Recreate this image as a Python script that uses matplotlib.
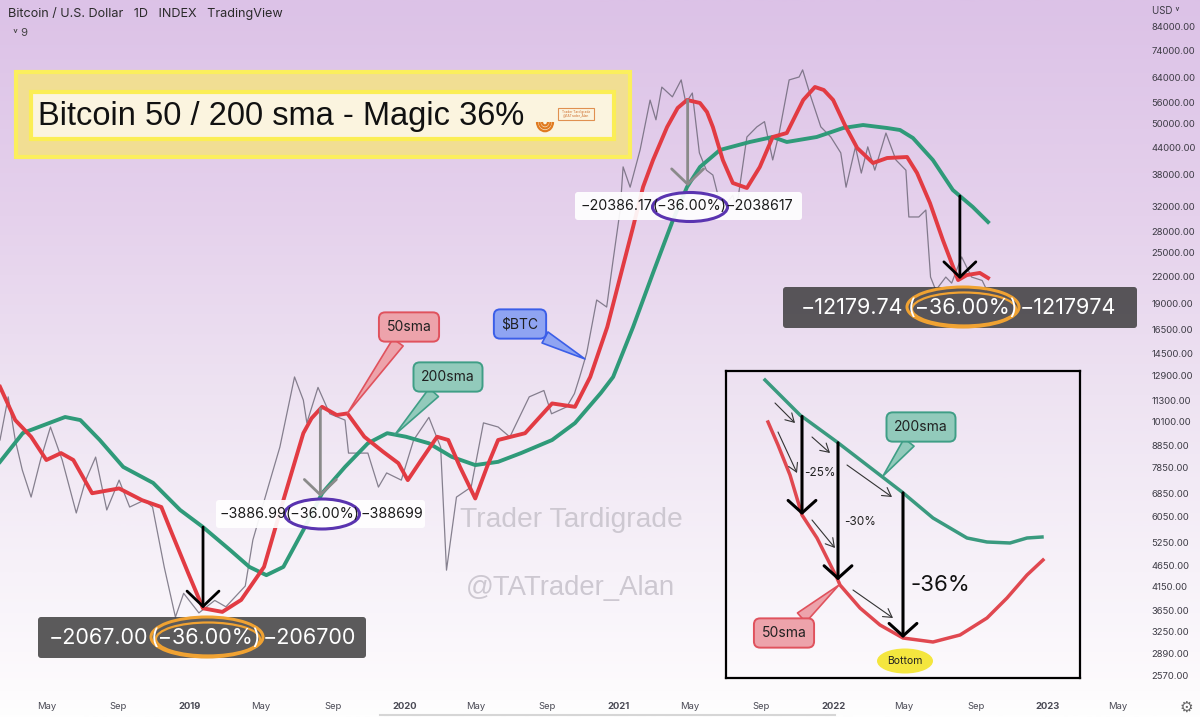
import matplotlib
matplotlib.use('Agg')
import matplotlib.pyplot as plt
import matplotlib.dates as mdates
from matplotlib.colors import LinearSegmentedColormap
from matplotlib.patches import FancyBboxPatch, Ellipse, Rectangle, Arc
from matplotlib.ticker import NullLocator
import numpy as np
import pandas as pd

plt.rcParams['font.family'] = ['Inter', 'DejaVu Sans']

# daily BTC price at its turning points
price_dates = ['2018-02-11', '2018-02-25', '2018-03-09', '2018-03-21', '2018-04-05', '2018-04-21',
               '2018-05-08', '2018-05-28', '2018-06-21', '2018-07-07', '2018-07-24', '2018-08-12',
               '2018-09-02', '2018-09-20', '2018-10-15', '2018-10-29', '2018-11-18', '2018-12-07',
               '2018-12-21', '2019-01-16', '2019-02-12', '2019-03-03', '2019-04-05', '2019-04-18',
               '2019-05-14', '2019-06-03', '2019-06-28', '2019-07-13', '2019-07-19', '2019-08-07',
               '2019-08-27', '2019-09-22', '2019-09-28', '2019-10-31', '2019-11-18', '2019-12-02',
               '2019-12-27', '2020-01-17', '2020-02-12', '2020-03-03', '2020-03-13', '2020-03-30',
               '2020-04-24', '2020-05-15', '2020-06-09', '2020-06-29', '2020-08-01', '2020-08-26',
               '2020-09-08', '2020-10-04', '2020-10-17', '2020-10-26', '2020-11-07', '2020-11-24',
               '2020-12-11', '2020-12-22', '2021-01-03', '2021-01-08', '2021-01-20', '2021-02-06',
               '2021-02-23', '2021-03-05', '2021-03-15', '2021-04-02', '2021-04-17', '2021-04-25',
               '2021-05-06', '2021-05-18', '2021-05-30', '2021-06-10', '2021-06-25', '2021-07-14',
               '2021-07-20', '2021-08-07', '2021-08-24', '2021-09-06', '2021-09-20', '2021-10-01',
               '2021-10-18', '2021-11-04', '2021-11-10', '2021-11-24', '2021-12-11', '2021-12-28',
               '2022-01-14', '2022-01-23', '2022-02-08', '2022-02-18', '2022-03-01', '2022-03-13',
               '2022-04-01', '2022-04-18', '2022-05-05', '2022-05-10', '2022-05-27', '2022-06-08',
               '2022-06-16', '2022-06-25', '2022-07-12', '2022-07-22', '2022-08-08', '2022-08-25',
               '2022-09-12', '2022-09-20']
price_close = [9120, 11500, 9120, 7760, 6710, 8190,
               9780, 8190, 6160, 7350, 8320, 6260,
               7350, 6360, 6600, 6360, 4600, 3520,
               4000, 3600, 3850, 3720, 4160, 5330,
               7080, 8780, 12800, 11300, 10000, 12100,
               10500, 10150, 8500, 8500, 7080, 7640,
               7350, 9120, 10300, 8780, 4530, 6710,
               7080, 10000, 9780, 9270, 11500, 11900,
               10500, 10900, 11700, 12800, 14560, 19360,
               18640, 24000, 31400, 39600, 35500, 43400,
               56700, 51000, 60800, 57700, 63200, 55800,
               58900, 42700, 38900, 37900, 31400, 34000,
               31400, 46500, 49100, 50500, 41100, 47500,
               63200, 64200, 66700, 57700, 49100, 46500,
               42700, 35500, 44100, 38300, 44100, 38900,
               47500, 41100, 38900, 30250, 30250, 31400,
               21900, 20400, 21900, 21200, 24400, 21900,
               21500, 20400]

sma50_dates = ['2018-02-11', '2018-03-09', '2018-04-05', '2018-05-01', '2018-05-26', '2018-06-16',
               '2018-07-18', '2018-09-02', '2018-10-11', '2018-11-13', '2018-12-01', '2018-12-29',
               '2019-01-23', '2019-02-25', '2019-03-29', '2019-05-07', '2019-06-09', '2019-07-13',
               '2019-07-27', '2019-08-14', '2019-09-08', '2019-09-26', '2019-10-25', '2019-11-26',
               '2019-12-22', '2020-01-07', '2020-01-30', '2020-02-26', '2020-03-16', '2020-04-05',
               '2020-05-01', '2020-05-21', '2020-06-09', '2020-07-25', '2020-09-09', '2020-10-18',
               '2020-11-13', '2020-12-12', '2021-01-03', '2021-01-25', '2021-02-11', '2021-02-28',
               '2021-03-24', '2021-04-11', '2021-04-27', '2021-05-19', '2021-05-31', '2021-06-10',
               '2021-06-27', '2021-07-14', '2021-08-07', '2021-08-29', '2021-09-20', '2021-10-14',
               '2021-11-11', '2021-12-01', '2021-12-16', '2022-01-01', '2022-01-21', '2022-02-11',
               '2022-03-10', '2022-04-03', '2022-05-07', '2022-05-24', '2022-06-15', '2022-07-07',
               '2022-08-02', '2022-08-17', '2022-09-08', '2022-09-22']
sma50 = [12140, 10150, 9280, 8190, 8500, 8190,
         6850, 7030, 6600, 6360, 5520, 4450,
         3690, 3620, 3860, 4610, 6600, 9460,
         10250, 10900, 10430, 10520, 9280, 8560,
         8050, 7350, 8190, 9280, 9120, 7890,
         6660, 7890, 9120, 9460, 11100, 10900,
         12800, 16740, 21910, 28660, 35540, 41080,
         49060, 54350, 56730, 55830, 53180, 49060,
         41080, 36310, 35350, 39570, 46500, 47510,
         56730, 60840, 59870, 56730, 49590, 43830,
         40430, 41530, 41760, 38320, 32610, 26730,
         21550, 22140, 22390, 21790]

sma200_dates = ['2018-02-11', '2018-03-22', '2018-06-02', '2018-06-28', '2018-07-31', '2018-09-09',
                '2018-10-30', '2018-12-15', '2019-01-23', '2019-03-10', '2019-04-12', '2019-05-11',
                '2019-06-09', '2019-07-13', '2019-08-14', '2019-09-22', '2019-10-31', '2019-12-03',
                '2020-01-04', '2020-02-12', '2020-03-22', '2020-05-01', '2020-06-09', '2020-07-18',
                '2020-09-09', '2020-10-18', '2020-12-01', '2020-12-22', '2021-01-25', '2021-02-28',
                '2021-04-03', '2021-04-27', '2021-05-19', '2021-06-22', '2021-08-12', '2021-09-20',
                '2021-10-14', '2021-12-04', '2022-01-18', '2022-02-21', '2022-04-03', '2022-04-25',
                '2022-05-17', '2022-06-20', '2022-07-24', '2022-08-27', '2022-09-22']
sma200 = [8110, 9470, 10320, 10150, 9120, 7890,
          7240, 6260, 5710, 5050, 4610, 4410,
          4610, 5620, 6850, 7890, 8960, 9460,
          9280, 8960, 8330, 7970, 8110, 8500,
          9120, 9990, 11740, 12800, 16740, 22390,
          29760, 35540, 39570, 43360, 45270, 46500,
          45270, 46500, 48800, 49590, 48800, 48280,
          46250, 41080, 34970, 31920, 29440]

price_ticks = [84000, 74000, 64000, 56000, 50000, 44000, 38000, 32000, 28000, 25000, 22000,
               19000, 16500, 14500, 12900, 11300, 10100, 8850, 7850, 6850, 6050, 5250, 4650,
               4150, 3650, 3250, 2890, 2570]
time_ticks = ['2018-05-01', '2018-09-01', '2019-01-01', '2019-05-01', '2019-09-01', '2020-01-01',
              '2020-05-01', '2020-09-01', '2021-01-01', '2021-05-01', '2021-09-01', '2022-01-01',
              '2022-05-01', '2022-09-01', '2023-01-01', '2023-05-01']
time_labels = ['May', 'Sep', '2019', 'May', 'Sep', '2020', 'May', 'Sep', '2021', 'May', 'Sep',
               '2022', 'May', 'Sep', '2023', 'May']

# measured drops: date of the arrow, arrow colour
measure_dates = ['2019-01-23', '2019-08-11', '2021-04-28', '2022-08-05']
measure_colors = ['black', '#8a8a8a', '#8a8a8a', 'black']

# hand sketch in the inset (sketch units)
sketch200_x = [39, 74, 111, 176, 207, 241, 261, 284, 301, 316]
sketch200_y = [9, 44, 71, 121, 147, 167, 171, 172, 167, 166]
sketch50_x = [42, 52, 64, 76, 91, 111, 114, 134, 154, 177, 207, 234, 261, 281, 301, 317]
sketch50_y = [51, 74, 104, 144, 167, 207, 214, 237, 254, 267, 271, 264, 247, 227, 204, 189]
sketch_drop_x = [76, 112, 177]
sketch_hints = [((49, 32), (69, 52)), ((52, 61), (71, 102)), ((86, 66), (104, 82)),
                ((86, 149), (109, 177)), ((121, 94), (166, 126)), ((127, 219), (167, 247))]


def dnum(dates):
    return mdates.date2num(pd.to_datetime(dates).to_pydatetime())


def value_at(dates, values, day):
    return float(np.exp(np.interp(dnum([day])[0], dnum(dates), np.log(values))))


fig = plt.figure(figsize=(12, 7.17), dpi=100)

# background gradient
bg = fig.add_axes([0, 0, 1, 1], zorder=0)
stops = [(0.0, '#dcc2e7'), (0.3, '#e5d1ec'), (0.55, '#eee3f2'), (0.8, '#f7f2f9'),
         (0.965, '#fdfbfd'), (1.0, '#fefefe')]
bg.imshow(np.linspace(0, 1, 512).reshape(-1, 1), aspect='auto',
          cmap=LinearSegmentedColormap.from_list('tv', stops))
bg.axis('off')

ax = fig.add_axes([0, 25 / 717, 1140 / 1200, 692 / 717], zorder=1)
ax.set_facecolor('none')
ax.set_yscale('log')
ax.set_xlim(dnum(['2018-02-11'])[0], dnum(['2023-06-08'])[0])
ax.set_ylim(2353, 97120)

ax.plot(dnum(price_dates), price_close, color='#615c6c', lw=0.9, alpha=0.75, zorder=2)
ax.plot(dnum(sma200_dates), sma200, color='#2f9a79', lw=2.8, zorder=3)
ax.plot(dnum(sma50_dates), sma50, color='#e23b43', lw=2.8, zorder=4)

ax.yaxis.tick_right()
ax.set_yticks(price_ticks)
ax.set_yticklabels([f'{v:.2f}' for v in price_ticks])
ax.yaxis.set_minor_locator(NullLocator())
ax.tick_params(axis='y', length=0, pad=8, labelsize=6.8, labelcolor='#3d3b45')
ax.set_xticks(dnum(time_ticks))
ax.set_xticklabels(time_labels)
ax.tick_params(axis='x', length=0, pad=7, labelsize=6.8, labelcolor='#4a4a55')
for lbl in ax.get_xticklabels():
    if lbl.get_text().isdigit():
        lbl.set_fontweight('bold')
for s in ax.spines.values():
    s.set_visible(False)

# measuring arrows between the two averages
for day, col in zip(measure_dates, measure_colors):
    a = value_at(sma200_dates, sma200, day)
    b = value_at(sma50_dates, sma50, day)
    x = dnum([day])[0]
    ax.annotate('', xy=(x, min(a, b)), xytext=(x, max(a, b)),
                arrowprops=dict(arrowstyle='->,head_length=1.1,head_width=1.15', color=col,
                                lw=2, shrinkA=0, shrinkB=0, mutation_scale=10), zorder=5)

# overlay in screen pixels
ov = fig.add_axes([0, 0, 1, 1], zorder=5)
ov.set_xlim(0, 1200)
ov.set_ylim(717, 0)
ov.axis('off')

ov.text(8, 14, 'Bitcoin / U.S. Dollar   1D   INDEX   TradingView', fontsize=9.1,
        va='center', color='#2b2b2b')
ov.text(13, 33, '˅ 9', fontsize=8, va='center', color='#444')
ov.text(1152, 11, 'USD ˅', fontsize=7, va='center', color='#3d3b45')
ov.text(1186, 707, '⚙', fontsize=11, ha='center', va='center', color='#666',
        family=['DejaVu Sans'])
ov.plot([380, 835], [715, 715], color='#d6d6d6', lw=1.5)

# title box
ov.add_patch(Rectangle((16, 72), 614, 85, fc='#f1de93', ec='#fbef5d', lw=3))
ov.add_patch(Rectangle((31, 92), 583, 47, fc='#fbf4df', ec='#fbee55', lw=3))
ov.text(38, 116, 'Bitcoin 50 / 200 sma - Magic 36%', fontsize=23.5, va='center',
        color='#111111', family=['Liberation Sans', 'DejaVu Sans'])
for r in [8, 5.5, 3]:
    ov.add_patch(Arc((545, 122), 2 * r, 2.3 * r, theta1=0, theta2=180, color='#e07a20', lw=1.6))
ov.add_patch(Rectangle((558, 108), 36, 12, fc='#fbf4df', ec='#e09050', lw=0.8))
ov.text(576, 114, 'Trader Tardigrade\n@TATrader_Alan', fontsize=2.4, ha='center', va='center',
        color='#d07030')

# watermark
ov.text(460, 520, 'Trader Tardigrade', fontsize=20.3, color='#cdc8d1', va='center',
        family=['Liberation Sans', 'DejaVu Sans'])
ov.text(466, 588, '@TATrader_Alan', fontsize=19.8, color='#cdc8d1', va='center',
        family=['Liberation Sans', 'DejaVu Sans'])

# measurement labels
labels = [
    dict(box=(38, 617, 328, 41), fc=(0.2, 0.2, 0.2, 0.8), tc='white', fs=15.5, y=638,
         parts=('−2067.00', '(−36.00%)', '−206700'), xs=(148, 206, 263),
         ell=(207, 637, 112, 40), ec='#f0a232'),
    dict(box=(783, 287, 354, 41), fc=(0.2, 0.2, 0.2, 0.8), tc='white', fs=15.5, y=308,
         parts=('−12179.74', '(−36.00%)', '−1217974'), xs=(903, 963, 1020),
         ell=(963, 307, 112, 40), ec='#f0a232'),
    dict(box=(216, 500, 209, 28), fc=(1, 1, 1, 0.92), tc='#1a1a1a', fs=10.3, y=514,
         parts=('−3886.99', '(−36.00%)', '−388699'), xs=(286, 322, 361),
         ell=(322, 514, 75, 30), ec='#5a34b0'),
    dict(box=(575, 192, 227, 28), fc=(1, 1, 1, 0.92), tc='#1a1a1a', fs=10.3, y=206,
         parts=('−20386.17', '(−36.00%)', '−2038617'), xs=(652, 689, 726),
         ell=(690, 207, 75, 29), ec='#5a34b0'),
]
for lab in labels:
    x0, y0, w, h = lab['box']
    ov.add_patch(FancyBboxPatch((x0, y0), w, h, boxstyle='round,pad=0,rounding_size=3',
                                fc=lab['fc'], ec='none'))
    for txt, xx, ha in zip(lab['parts'], lab['xs'], ('right', 'center', 'left')):
        ov.text(xx, lab['y'], txt, ha=ha, va='center', fontsize=lab['fs'], color=lab['tc'])
    cx, cy, ew, eh = lab['ell']
    ov.add_patch(Ellipse((cx, cy), ew, eh, fill=False, ec=lab['ec'], lw=2.2))
    if lab['ec'] == '#f0a232':
        ov.add_patch(Ellipse((cx + 1, cy + 2), ew - 8, eh - 7, fill=False, ec=lab['ec'], lw=1.6))


def callout(axes, text, xy, xycoords, xytext, fc, ec, fs=10):
    axes.annotate(text, xy=xy, xycoords=xycoords, xytext=xytext, textcoords='data',
                  ha='center', va='center', fontsize=fs, color='#202020',
                  bbox=dict(boxstyle='round,pad=0.55,rounding_size=0.45', fc=fc, ec=ec, lw=1.4),
                  arrowprops=dict(arrowstyle='wedge,tail_width=0.9', fc=fc, ec=ec, lw=1.2,
                                  shrinkA=0, shrinkB=0))


pink, red_edge = '#eda3ab', '#e0525d'
teal, teal_edge = '#92cabb', '#3f9e86'
blue, blue_edge = '#8fa4f2', '#3b5ee8'

d = '2019-09-26'
callout(ov, '50sma', (dnum([d])[0], value_at(sma50_dates, sma50, d)), ax.transData,
        (409, 327), pink, red_edge)
d = '2019-12-16'
callout(ov, '200sma', (dnum([d])[0], value_at(sma200_dates, sma200, d)), ax.transData,
        (448, 377), teal, teal_edge)
d = '2020-11-04'
callout(ov, '$BTC', (dnum([d])[0], value_at(price_dates, price_close, d)), ax.transData,
        (520, 324), blue, blue_edge)

# inset sketch
ins = fig.add_axes([726 / 1200, 1 - 678 / 717, 354 / 1200, 307 / 717], zorder=6)
ins.set_xlim(0, 354)
ins.set_ylim(307, 0)
ins.set_facecolor('none')
ins.set_xticks([])
ins.set_yticks([])
for s in ins.spines.values():
    s.set_color('black')
    s.set_linewidth(1.6)

ins.plot(sketch200_x, sketch200_y, color='#3a9a7f', lw=2.5)
ins.plot(sketch50_x, sketch50_y, color='#e04850', lw=2.5)
for x in sketch_drop_x:
    top = np.interp(x, sketch200_x, sketch200_y)
    bot = np.interp(x, sketch50_x, sketch50_y)
    ins.annotate('', xy=(x, bot), xytext=(x, top),
                 arrowprops=dict(arrowstyle='->,head_length=0.9,head_width=1.0', color='black',
                                 lw=2.2, shrinkA=0, shrinkB=0, mutation_scale=10))
for (p0, p1) in sketch_hints:
    ins.annotate('', xy=p1, xytext=p0,
                 arrowprops=dict(arrowstyle='->,head_length=0.6,head_width=0.35', color='#333333',
                                 lw=0.8, shrinkA=0, shrinkB=0, mutation_scale=10))
ins.text(94, 102, '-25%', fontsize=8.5, ha='center', va='center', color='#222')
ins.text(134, 151, '-30%', fontsize=8.5, ha='center', va='center', color='#222')
ins.text(214, 214, '-36%', fontsize=16, ha='center', va='center', color='#111')
callout(ins, '200sma', (157, 105), 'data', (195, 56), teal, teal_edge)
callout(ins, '50sma', (113, 214), 'data', (58, 262), pink, red_edge)
ins.add_patch(Ellipse((179, 290), 56, 25, fc='#f4e63e', ec='none'))
ins.text(179, 290, 'Bottom', fontsize=7.5, ha='center', va='center', color='#222')

fig.savefig('out.png', dpi=100)
